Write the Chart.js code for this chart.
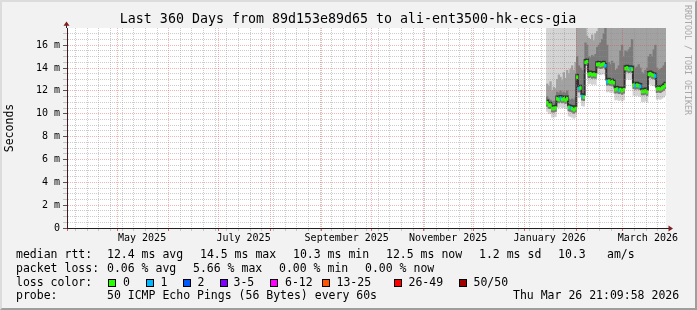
<!DOCTYPE html>
<html>
<head>
<meta charset="utf-8">
<script src="https://cdn.jsdelivr.net/npm/chart.js@4.4.1/dist/chart.umd.min.js"></script>
<style>
html,body{margin:0;padding:0;background:#f2f2f2}
#wrap{position:relative;width:697px;height:310px;overflow:hidden;font-family:"DejaVu Sans Mono",monospace;color:#000}
#frame{position:absolute;left:0;top:0;width:697px;height:310px;box-sizing:border-box;border:2px solid;border-color:#dcdcdc #9e9e9e #9e9e9e #dcdcdc;pointer-events:none}
canvas{position:absolute;left:0;top:0}
#title{position:absolute;left:0;top:11px;width:696px;text-align:center;font-size:13.3px;line-height:16px;white-space:pre}
#wm{position:absolute;left:683px;top:5px;font-size:8.3px;line-height:10px;writing-mode:vertical-rl;color:#a8a8a8;white-space:pre}
.t{position:absolute;white-space:pre;font-size:11.5px;line-height:14px}
.sw{position:absolute;width:8px;height:8px;box-sizing:border-box;border:1px solid #000}
</style>
</head>
<body>
<div id="wrap">
  <canvas id="c" width="697" height="250"></canvas>
  <div id="title">Last 360 Days from 89d153e89d65 to ali-ent3500-hk-ecs-gia</div>
  <div id="wm">RRDTOOL / TOBI OETIKER</div>
  <div id="legend"></div>
  <div id="frame"></div>
</div>
<script>
/* ---------- data ---------- */
const END_TIME = Date.UTC(2026, 2, 26, 21, 9, 58);   // graph end
const SPAN_DAYS = 360;
const FIRST_DAY = Date.UTC(2026, 0, 14);             // first daily sample
const DAY = 86400000;

// median rtt (ms), one value per day
const median = [
  10.95,10.75,10.75,10.45,10.45,10.5,11.3,11.25,11.35,11.25,11.3,11.2,11.3,10.55,10.5,10.45,10.35,10.45,
  13.2,12.2,12.25,11.5,11.45,14.5,14.55,13.45,13.5,13.4,13.45,13.4,14.3,14.35,14.25,14.3,14.35,14.2,
  12.8,12.85,12.75,12.8,12.7,12.1,12.15,12.05,12.1,12.0,12.1,13.95,14.0,13.9,13.95,13.9,12.5,12.45,
  12.5,12.45,12.4,11.95,11.95,12.0,11.9,13.45,13.5,13.4,13.35,13.3,12.15,12.2,12.15,12.25,12.35,12.5
];
// lost pings out of 50, per day
const loss = [
  0,0,0,0,0,0,0,0,1,0,0,0,0,0,1,0,0,0,
  0,1,0,1,0,0,0,0,0,0,0,0,0,0,0,0,0,1,
  1,0,0,0,0,0,0,1,0,0,0,0,0,0,1,0,0,1,
  0,0,1,0,0,0,0,0,0,0,0,1,0,0,0,0,0,0
];
// upper edge of the dense core just above the median
const pCore = [
  11.15,10.95,10.95,10.65,10.65,10.7,11.5,11.45,11.55,11.45,11.5,11.4,11.5,10.75,10.7,10.65,10.55,10.65,
  13.4,12.4,12.45,11.7,11.65,14.7,14.75,13.65,13.7,13.6,13.65,13.6,14.5,14.55,14.45,14.5,14.55,14.4,
  13.0,13.05,12.95,13.0,12.9,12.3,12.35,12.25,12.3,12.2,12.3,14.15,14.2,14.1,14.15,14.1,12.7,12.65,
  12.7,12.65,12.6,12.15,12.15,12.2,12.1,13.65,13.7,13.6,13.55,13.5,12.35,12.4,12.35,12.45,12.55,12.7
];
// smoke: upper edges of the darker bands
const p75 = [
  11.5,11.3,11.2,11.0,11.1,11.0,11.9,11.8,12.0,11.8,11.9,11.8,12.0,11.3,11.2,11.3,11.2,11.4,
  15.0,14.2,14.0,13.8,13.5,16.2,16.0,15.0,14.9,15.1,15.0,15.2,15.8,16.0,16.2,16.5,17.0,17.5,
  16.0,14.5,14.3,14.6,14.4,13.8,13.9,14.2,15.5,16.0,15.0,15.5,15.4,15.6,15.8,16.5,14.2,14.0,
  14.1,14.3,14.0,13.6,13.5,13.8,14.0,15.0,15.2,15.0,15.6,16.0,14.0,13.8,13.9,14.0,14.2,14.5
];
const p90 = [
  12.6,12.4,12.8,12.0,12.3,12.2,13.0,13.4,13.2,12.9,13.6,13.1,13.8,13.5,13.9,14.2,13.8,14.5,
  19,18.5,19,19,18,19,16.8,16.6,16.5,16.9,16.4,17.0,17.2,19,19,19,19,19,
  19,19,19,19,19,19,19,19,19,19,19,19,19,19,19,19,19,19,
  19,19,19,19,19,19,19,19,19,19,19,19,19,19,19,18.5,18,17.5
];
// smoke: lower edges below the median
const pLow = [
  10.65,10.45,10.45,10.15,10.15,10.2,11.0,10.95,11.05,10.95,11.0,10.9,11.0,10.25,10.2,10.15,10.05,10.15,
  12.9,11.9,11.95,11.2,11.15,14.2,14.25,13.15,13.2,13.1,13.15,13.1,14.0,14.05,13.95,14.0,14.05,13.9,
  12.5,12.55,12.45,12.5,12.4,11.8,11.85,11.75,11.8,11.7,11.8,13.65,13.7,13.6,13.65,13.6,12.2,12.15,
  12.2,12.15,12.1,11.65,11.65,11.7,11.6,13.15,13.2,13.1,13.05,13.0,11.85,11.9,11.85,11.95,12.05,12.2
];
const pMin = [
  10.2,10.0,10.0,9.7,9.7,9.75,10.55,10.5,10.6,10.5,10.55,10.45,10.55,9.8,9.75,9.7,9.6,9.7,
  12.4,11.4,11.45,10.7,10.65,13.7,13.75,12.6,12.65,12.55,12.6,12.55,13.45,13.5,13.4,13.45,13.5,13.35,
  11.9,11.95,11.85,11.9,11.8,11.2,11.25,11.15,11.2,11.1,11.2,13.05,13.1,13.0,13.05,13.0,11.6,11.55,
  11.6,11.55,11.5,11.05,11.05,11.1,11.0,12.55,12.6,12.5,12.45,12.4,11.25,11.3,11.25,11.35,11.45,11.6
];
const SMOKE_CEIL = 30;   // outer smoke runs off the top of the graph

const xLabels = ['May 2025','July 2025','September 2025','November 2025','January 2026','March 2026'];
const xLabelAt = ['2025-05-16','2025-07-16','2025-09-16','2025-11-16','2026-01-16','2026-03-16'];
const yLabels = ['0','2 m','4 m','6 m','8 m','10 m','12 m','14 m','16 m'];
const Y_MAX = 17.5;

const lossSteps  = [0,1,2,3,6,13,26,50];
const lossNames  = ['0','1','2','3-5','6-12','13-25','26-49','50/50'];
const lossColors = ['#26ff00','#00b8ff','#0059ff','#7e00ff','#ff00ff','#ff5500','#ff0000','#a10000'];

/* ---------- styles ---------- */
const FONT = '"DejaVu Sans Mono", monospace';
const MINOR = 'rgba(143,143,143,0.45)';
const MAJOR = 'rgba(222,79,79,0.42)';
const NONE = 'rgba(0,0,0,0)';
const MED_HALF = 0.13;   // half thickness of the median band (ms)

const START_TIME = END_TIME - SPAN_DAYS * DAY;
const xs = median.map((_, i) => FIRST_DAY + (i + 0.5) * DAY);
const band = (lo, hi) => lo.map((v, i) => ({x: xs[i], y: [v, Array.isArray(hi) ? hi[i] : hi]}));
const lossColor = n => { let c = lossColors[0]; lossSteps.forEach((s, i) => { if (n >= s) c = lossColors[i]; }); return c; };

const barOpts = {type:'bar', grouped:false, barPercentage:1, categoryPercentage:1, borderWidth:0};

// x ticks: sundays (minor), month starts (major), mid-month labels
function buildXTicks(scale){
  const t = [];
  const months = [];
  const d0 = new Date(START_TIME);
  for (let m = d0.getUTCMonth() + 1; ; m++){
    const v = Date.UTC(d0.getUTCFullYear(), m, 1);
    if (v > END_TIME) break;
    months.push(v);
    t.push({value:v, kind:'month'});
  }
  let s = Math.ceil(START_TIME / DAY) * DAY;
  while (new Date(s).getUTCDay() !== 0) s += DAY;
  for (; s <= END_TIME; s += 7 * DAY) if (!months.includes(s)) t.push({value:s, kind:'week'});
  xLabelAt.forEach((d, i) => t.push({value:Date.parse(d + 'T00:00:00Z'), kind:'label', text:xLabels[i]}));
  t.sort((a, b) => a.value - b.value);
  scale.ticks = t;
}
function buildYTicks(scale){
  const t = [];
  for (let v = 0; v < Y_MAX - 0.01; v += 0.5) t.push({value:v});
  scale.ticks = t;
}

const plotBg = {
  id:'plotBg',
  beforeDraw(chart){
    const {ctx, chartArea:a} = chart;
    ctx.save();
    ctx.fillStyle = '#ffffff';
    ctx.fillRect(a.left, a.top, a.right - a.left, a.bottom - a.top);
    ctx.restore();
  }
};
const axisArrows = {
  id:'axisArrows',
  afterDraw(chart){
    const {ctx, chartArea:a} = chart;
    const yb = a.bottom + 0.5, xl = a.left - 0.5;
    ctx.save();
    ctx.strokeStyle = '#1f1f1f';
    ctx.lineWidth = 1;
    ctx.beginPath();
    ctx.moveTo(a.right, yb); ctx.lineTo(a.right + 3, yb);
    ctx.moveTo(xl, a.top); ctx.lineTo(xl, a.top - 3);
    ctx.stroke();
    ctx.fillStyle = '#801f1f';
    ctx.beginPath();
    ctx.moveTo(a.right + 7, yb); ctx.lineTo(a.right + 2.5, yb - 3); ctx.lineTo(a.right + 2.5, yb + 3);
    ctx.closePath(); ctx.fill();
    ctx.beginPath();
    ctx.moveTo(xl, a.top - 6.5); ctx.lineTo(xl - 3, a.top - 2.3); ctx.lineTo(xl + 3, a.top - 2.3);
    ctx.closePath(); ctx.fill();
    ctx.restore();
  }
};

new Chart(document.getElementById('c'), {
  type:'bar',
  data:{
    datasets:[
      Object.assign({label:'median', data:median.map((v, i) => ({x:xs[i], y:[v - MED_HALF, v + MED_HALF]})),
        backgroundColor:loss.map(lossColor), order:1}, barOpts),
      {type:'line', label:'core', data:pCore.map((v, i) => ({x:xs[i], y:v})), borderColor:'#303030',
        borderWidth:2, stepped:'middle', pointRadius:0, fill:false, order:2},
      Object.assign({label:'smoke 3', data:band(pLow, p75), backgroundColor:'#7a7a7a', order:3}, barOpts),
      Object.assign({label:'smoke 2', data:band(pLow, p90), backgroundColor:'#a2a2a2', order:4}, barOpts),
      Object.assign({label:'smoke 1', data:band(pMin, SMOKE_CEIL), backgroundColor:'#d4d4d4', order:5}, barOpts)
    ]
  },
  options:{
    responsive:false, animation:false, devicePixelRatio:1,
    layout:{padding:{left:0, top:28, right:31, bottom:0}},
    plugins:{legend:{display:false}, tooltip:{enabled:false}},
    scales:{
      x:{
        type:'linear', min:START_TIME, max:END_TIME, offset:false, bounds:'data',
        afterBuildTicks:buildXTicks,
        afterFit:s => { s.height = 22; },
        grid:{offset:false, z:1, lineWidth:1, tickLength:3,
          color:c => c.tick && c.tick.kind === 'month' ? MAJOR : c.tick && c.tick.kind === 'week' ? MINOR : NONE,
          tickColor:c => c.tick && c.tick.kind === 'month' ? 'rgba(222,79,79,0.9)' : c.tick && c.tick.kind === 'week' ? MINOR : NONE},
        border:{display:true, color:'#1f1f1f', width:1, dash:[1,1], z:2},
        ticks:{autoSkip:false, maxRotation:0, padding:1, color:'#000', font:{family:FONT, size:10},
          callback:(v, i, ticks) => ticks[i].text || ''}
      },
      y:{
        type:'linear', min:0, max:Y_MAX,
        afterBuildTicks:buildYTicks,
        afterFit:s => { s.width = 67; },
        grid:{z:1, lineWidth:1, tickLength:4,
          color:c => c.tick && c.tick.value % 2 === 0 ? MAJOR : MINOR,
          tickColor:c => c.tick && c.tick.value % 2 === 0 ? '#555555' : MINOR},
        border:{display:true, color:'#3a1c1c', width:1, dash:[1,1], z:2},
        ticks:{autoSkip:false, padding:3, color:'#000', font:{family:FONT, size:10},
          callback:v => (v % 2 === 0 ? yLabels[v / 2] : '')},
        title:{display:true, text:'Seconds', color:'#000', font:{family:FONT, size:11.5}, padding:{top:3, bottom:0}}
      }
    }
  },
  plugins:[plotBg, axisArrows]
});

/* ---------- legend below the graph (text) ---------- */
const legend = document.getElementById('legend');
function put(x, top, text){
  const el = document.createElement('div');
  el.className = 't'; el.style.left = x + 'px'; el.style.top = top + 'px'; el.textContent = text;
  legend.appendChild(el);
}
[[16,'median rtt:'],[107,'12.4 ms avg'],[200,'14.5 ms max'],[293,'10.3 ms min'],[386,'12.5 ms now'],
 [479,'1.2 ms sd'],[558,'10.3'],[607,'am/s']].forEach(p => put(p[0], 247, p[1]));
[[16,'packet loss:'],[107,'0.06 % avg'],[193,'5.66 % max'],[279,'0.00 % min'],[365,'0.00 % now']]
  .forEach(p => put(p[0], 261, p[1]));
put(16, 274.5, 'loss color:');
const swX = [108,145.5,182.5,219.5,270,321.5,393.5,458.5];
const lbX = [123,160.5,197.5,233.5,285,336.5,408.5,473.5];
lossNames.forEach((n, i) => {
  const sw = document.createElement('div');
  sw.className = 'sw'; sw.style.left = swX[i] + 'px'; sw.style.top = '278.5px'; sw.style.background = lossColors[i];
  legend.appendChild(sw);
  put(lbX[i], 274.5, n);
});
put(16, 288, 'probe:');
put(107, 288, '50 ICMP Echo Pings (56 Bytes) every 60s');
put(513, 288, 'Thu Mar 26 21:09:58 2026');
</script>
</body>
</html>
